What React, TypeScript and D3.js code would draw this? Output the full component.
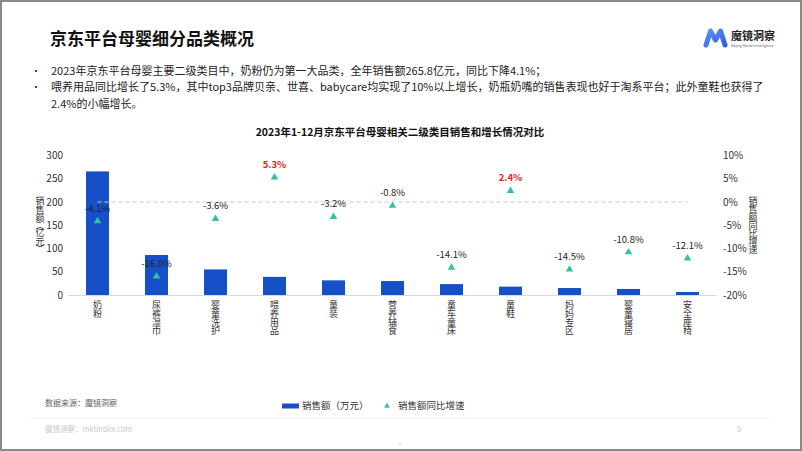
import * as d3 from 'd3';

const categories = ['奶粉', '尿裤湿巾', '婴童洗护', '喂养用品', '童装', '营养辅食', '童车童床', '童鞋', '妈妈专区', '婴童寝居', '安全座椅'];
const sales = [265.8, 86, 55, 39, 31.5, 30, 23.5, 18, 15, 13, 6.5];
const growth = [-4.1, -16.0, -3.6, 5.3, -3.2, -0.8, -14.1, 2.4, -14.5, -10.8, -12.1];
const salesTicks = [0, 50, 100, 150, 200, 250, 300];
const growthTicks = [-20, -15, -10, -5, 0, 5, 10];
const bullets = [
  ['2023年京东平台母婴主要二级类目中，奶粉仍为第一大品类，全年销售额265.8亿元，同比下降4.1%；'],
  ['喂养用品同比增长了5.3%，其中top3品牌贝亲、世喜、babycare均实现了10%以上增长，奶瓶奶嘴的销售表现也好于淘系平台；此外童鞋也获得了', '2.4%的小幅增长。'],
];

const W = 802;
const H = 451;
const FONT = '"Noto Sans CJK SC", "Noto Sans", sans-serif';
const BAR = '#1650c8';
const TEAL = '#2ec2a6';
const RED = '#e3221c';

const vertForm: Record<string, string> = { '（': '︵', '）': '︶' };

// one text, one tspan per character, stacked downwards
const VText = ({ x, y, text, size, step }: { x: number; y: number; text: string; size: number; step: number }) => {
  let pos = y;
  return (
    <text fontSize={size} fill="#333" textAnchor="middle" dominantBaseline="central">
      {Array.from(text).map((ch, i) => {
        const br = ch in vertForm;
        const s = br ? step * 0.6 : step;
        const cy = pos + s / 2;
        pos += s;
        return (
          <tspan key={i} x={x} y={cy}>
            {br ? vertForm[ch] : ch}
          </tspan>
        );
      })}
    </text>
  );
};

const App = () => {
  const x = d3.scaleBand<string>().domain(categories).range([68, 717]).paddingInner(0.61).paddingOuter(0.305);
  const yL = d3.scaleLinear().domain([0, 300]).range([295, 155.5]);
  const yR = d3.scaleLinear().domain([-20, 10]).range([295, 155.5]);
  const tri = d3.symbol(d3.symbolTriangle, 24)() || '';
  const cx = (c: string) => (x(c) || 0) + x.bandwidth() / 2;

  let lineY = 74.5;
  return (
    <svg width={W} height={H} style={{ position: 'absolute', left: 0, top: 0, fontFamily: FONT }}>
      <defs>
        <linearGradient id="logo" x1="0" y1="0" x2="1" y2="1">
          <stop offset="0" stopColor="#5b8ff7" />
          <stop offset="1" stopColor="#2f5fe0" />
        </linearGradient>
      </defs>
      <rect x={0} y={0} width={W} height={H} fill="#fff" />
      <rect x={1} y={1} width={W - 2} height={H - 2} fill="none" stroke="#8a8a8a" strokeWidth={2} />

      {/* header */}
      <text x={50} y={45} fontSize={17} fontWeight="bold" fill="#111">京东平台母婴细分品类概况</text>
      <g>
        <path d="M706,45 L710.5,31 L715.5,40 L720.5,31 L725,45" fill="none" stroke="url(#logo)" strokeWidth={5} strokeLinejoin="round" strokeLinecap="round" />
        <text x={731} y={40} fontSize={11} fontWeight="bold" fill="#222">魔镜洞察</text>
        <text x={731} y={47} fontSize={3.5} fill="#666">Mojing Market Intelligence</text>
      </g>

      {bullets.map((lines, i) => {
        const out = lines.map((l, j) => {
          const el = (
            <text key={`${i}-${j}`} x={51} y={lineY} fontSize={11} fill="#222">{l}</text>
          );
          if (j === 0) {
            const b = <text key={`b${i}`} x={31} y={lineY} fontSize={10} fill="#222">•</text>;
            lineY += 16.5;
            return [b, el];
          }
          lineY += 16.5;
          return [el];
        });
        return <g key={i}>{out}</g>;
      })}

      <text x={400} y={136} textAnchor="middle" fontSize={10.5} fontWeight="bold" fill="#111">
        2023年1-12月京东平台母婴相关二级类目销售和增长情况对比
      </text>

      {/* left axis */}
      {salesTicks.map((t) => (
        <text key={t} x={63} y={yL(t) + 3.5} textAnchor="end" fontSize={10} fill="#333">{t}</text>
      ))}
      <VText x={40} y={195} text="销售额（亿元）" size={9} step={9} />

      {/* right axis */}
      {growthTicks.map((t) => (
        <text key={t} x={723} y={yR(t) + 3.5} fontSize={10} fill="#333">{`${t}%`}</text>
      ))}
      <VText x={753} y={196} text="销售额同比增速" size={9} step={8.2} />

      {/* bars */}
      {categories.map((c, i) => (
        <rect key={c} x={x(c)} y={yL(sales[i])} width={x.bandwidth()} height={yL(0) - yL(sales[i])} fill={BAR} />
      ))}
      <line x1={68} x2={717} y1={295.5} y2={295.5} stroke="#d9d9d9" />

      {/* zero line */}
      <line x1={cx(categories[0])} x2={cx(categories[categories.length - 1])} y1={yR(0)} y2={yR(0)} stroke="#c8c8c8" strokeDasharray="4 3" />

      {/* growth markers */}
      {categories.map((c, i) => (
        <g key={c}>
          <path d={tri} transform={`translate(${cx(c)},${yR(growth[i])})`} fill={TEAL} />
          <text
            x={cx(c)}
            y={yR(growth[i]) - 9.5}
            textAnchor="middle"
            fontSize={9.5}
            fontWeight={growth[i] > 0 ? 'bold' : 'normal'}
            fill={growth[i] > 0 ? RED : '#222'}
          >
            {`${growth[i].toFixed(1)}%`}
          </text>
        </g>
      ))}

      {/* category labels */}
      {categories.map((c) => (
        <VText key={c} x={cx(c)} y={300} text={c} size={9} step={8.6} />
      ))}

      {/* legend */}
      <rect x={282} y={403.5} width={17} height={5} fill={BAR} />
      <text x={302} y={409} fontSize={9.5} fill="#333">销售额（万元）</text>
      <path d={d3.symbol(d3.symbolTriangle, 14)() || ''} transform="translate(387,406)" fill={TEAL} />
      <text x={398} y={409} fontSize={9.5} fill="#333">销售额同比增速</text>

      {/* footer */}
      <text x={45} y={406} fontSize={8} fill="#666">数据来源：魔镜洞察</text>
      <line x1={30} x2={770} y1={418} y2={418} stroke="#f2f2f2" />
      <text x={45} y={432} fontSize={7.5} fill="#c8c8c8">魔镜洞察：mktindex.com</text>
      <text x={737} y={432} fontSize={7.5} fill="#c8c8c8">5</text>
      <circle cx={400} cy={444} r={0.8} fill="#bbb" />
    </svg>
  );
};

export default App;
